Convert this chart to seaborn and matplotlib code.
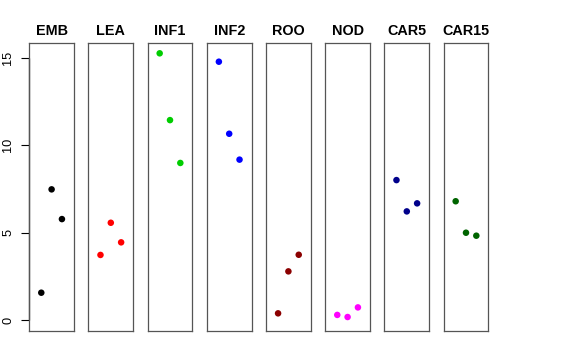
import pandas as pd
import matplotlib.pyplot as plt
import seaborn as sns

# tissues and their three replicate values
tissues = ["EMB", "LEA", "INF1", "INF2", "ROO", "NOD", "CAR5", "CAR15"]
colors = ["black", "red", "#00CD00", "blue", "#8B0000", "magenta", "#00008B", "#006400"]
rep1 = [1.56, 3.72, 15.25, 14.77, 0.38, 0.29, 8.00, 6.79]
rep2 = [7.47, 5.56, 11.43, 10.65, 2.78, 0.17, 6.21, 4.99]
rep3 = [5.77, 4.44, 8.98, 9.17, 3.73, 0.72, 6.67, 4.82]

rows = []
for t, a, b, c in zip(tissues, rep1, rep2, rep3):
    for i, v in enumerate([a, b, c]):
        rows.append({"tissue": t, "rep": i + 1, "value": v})
df = pd.DataFrame(rows)

sns.set_style("white")
plt.rcParams["font.family"] = ["Liberation Sans", "DejaVu Sans"]
plt.rcParams["text.color"] = "black"
plt.rcParams["ytick.color"] = "black"

fig, axes = plt.subplots(1, 8, sharey=True, figsize=(5.76, 3.6), dpi=100)
fig.subplots_adjust(left=29.3 / 576, right=488.3 / 576, top=1 - 43 / 360,
                    bottom=1 - 331 / 360, wspace=0.327)

for ax, t, col in zip(axes, tissues, colors):
    sub = df[df["tissue"] == t]
    sns.scatterplot(data=sub, x="rep", y="value", color=col, s=22,
                    edgecolor="none", ax=ax)
    ax.set_xlim(-0.16, 4.16)
    ax.set_ylim(-0.63, 15.84)
    ax.set_xticks([])
    ax.set_xlabel("")
    ax.set_ylabel("")
    ax.set_title(t, fontsize=10.4, fontweight="bold", pad=6, color="black")
    for s in ax.spines.values():
        s.set_color("#555555")
        s.set_linewidth(0.9)
    ax.tick_params(axis="y", left=False, labelleft=False)

ax0 = axes[0]
ax0.set_yticks([0, 5, 10, 15])
ax0.tick_params(axis="y", left=True, labelleft=True, length=6, width=0.8,
                color="black", labelcolor="black", labelsize=9.2, pad=5,
                direction="out")
for lab in ax0.get_yticklabels():
    lab.set_rotation(90)
    lab.set_va("center")
ax0.plot([-0.16, -0.16], [0, 15], color="black", lw=0.9, clip_on=False)

plt.savefig("out.png", dpi=100)
plt.close()
